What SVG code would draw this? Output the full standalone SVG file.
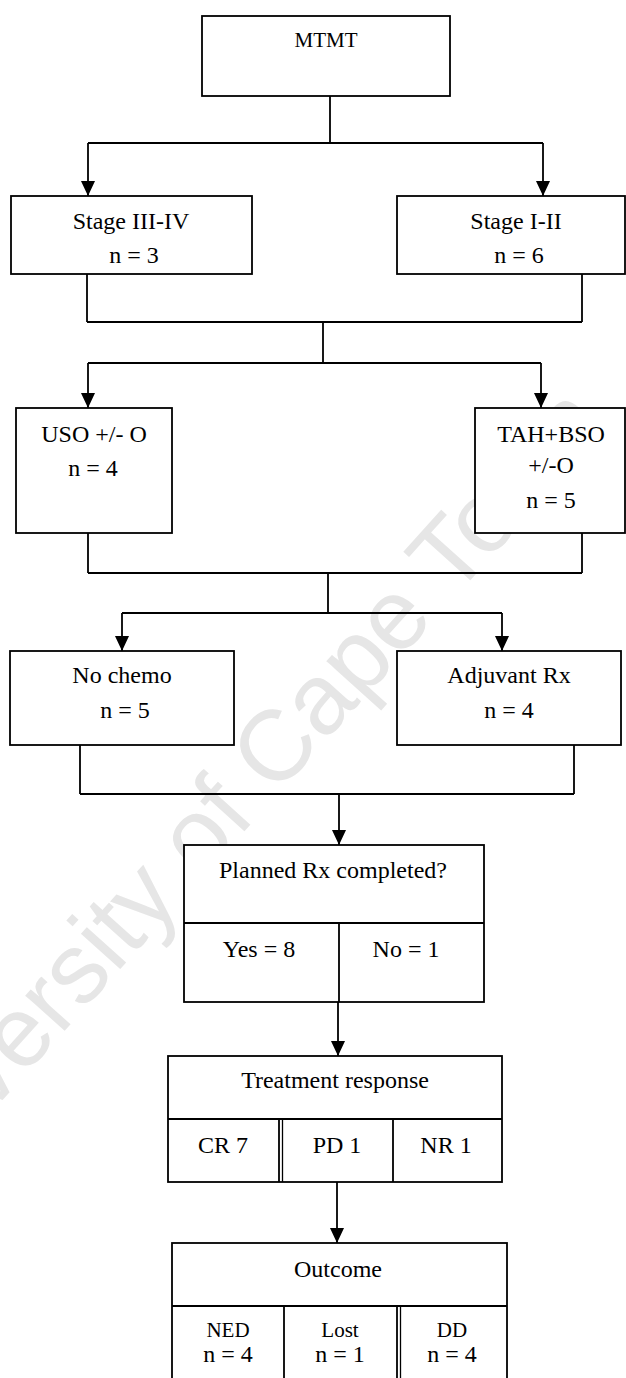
<svg xmlns="http://www.w3.org/2000/svg" width="626" height="1378" viewBox="0 0 626 1378">
<style>
.box{fill:#fff;stroke:#000;stroke-width:1.8}
.ln{fill:none;stroke:#000;stroke-width:1.8}
.t{font-family:"Liberation Serif","Times New Roman",serif;font-size:24px;text-anchor:middle;fill:#000}
.s{font-size:21px}
.wm{font-family:"Liberation Sans",Arial,sans-serif;font-size:100px;fill:#e6e6e6}
</style>
<defs>
<marker id="ah" viewBox="0 0 15 14" markerWidth="15" markerHeight="14" refX="15" refY="7" orient="auto" markerUnits="userSpaceOnUse">
<path d="M0,0 L15,7 L0,14 z" fill="#000"/>
</marker>
</defs>
<rect width="626" height="1378" fill="#fff"/>
<text class="wm" x="-111" y="1226" transform="rotate(-48 -111 1226)">University of Cape Town</text>

<g id="connectors">
<path class="ln" d="M330,96 V143 M88,143 H543 M87,274 V322 M582,274 V322 M87,322 H582 M323,322 V363 M88,363 H541 M88,533 V573 M582,533 V573 M88,573 H582 M328,573 V613 M122,613 H502 M80,745 V794 M574,745 V794 M80,794 H574"/>
<path class="ln" marker-end="url(#ah)" d="M88,143 V196"/>
<path class="ln" marker-end="url(#ah)" d="M543,143 V196"/>
<path class="ln" marker-end="url(#ah)" d="M88,363 V408"/>
<path class="ln" marker-end="url(#ah)" d="M541,363 V408"/>
<path class="ln" marker-end="url(#ah)" d="M122,613 V651"/>
<path class="ln" marker-end="url(#ah)" d="M502,613 V651"/>
<path class="ln" marker-end="url(#ah)" d="M339,794 V845"/>
<path class="ln" marker-end="url(#ah)" d="M338,1002 V1056"/>
<path class="ln" marker-end="url(#ah)" d="M337,1182 V1243"/>
</g>

<g id="mtmt">
<rect class="box" x="202" y="16" width="248" height="80"/>
<text class="t s" x="326" y="47">MTMT</text>
</g>
<g id="stage34">
<rect class="box" x="11" y="196" width="241" height="78"/>
<text class="t" x="131" y="229">Stage III-IV</text>
<text class="t" x="134" y="263">n = 3</text>
</g>
<g id="stage12">
<rect class="box" x="397" y="196" width="228" height="78"/>
<text class="t" x="516" y="229">Stage I-II</text>
<text class="t" x="519" y="263">n = 6</text>
</g>
<g id="uso">
<rect class="box" x="16" y="408" width="156" height="125"/>
<text class="t" x="94" y="442">USO +/- O</text>
<text class="t" x="93" y="476">n = 4</text>
</g>
<g id="tah">
<rect class="box" x="475" y="408" width="150" height="125"/>
<text class="t" x="551" y="442">TAH+BSO</text>
<text class="t" x="551" y="473">+/-O</text>
<text class="t" x="551" y="508">n = 5</text>
</g>
<g id="nochemo">
<rect class="box" x="10" y="651" width="224" height="94"/>
<text class="t" x="122" y="683">No chemo</text>
<text class="t" x="125" y="718">n = 5</text>
</g>
<g id="adjuvant">
<rect class="box" x="397" y="651" width="224" height="94"/>
<text class="t" x="509" y="683">Adjuvant Rx</text>
<text class="t" x="509" y="718">n = 4</text>
</g>
<g id="planned">
<rect class="box" x="184" y="845" width="300" height="157"/>
<path class="ln" d="M184,923 H484 M339,923 V1002"/>
<text class="t" x="333" y="878">Planned Rx completed?</text>
<text class="t" x="259" y="957">Yes = 8</text>
<text class="t" x="406" y="957">No = 1</text>
</g>
<g id="treatment">
<rect class="box" x="168" y="1056" width="334" height="126"/>
<path class="ln" d="M168,1119 H502 M279,1119 V1182 M393,1119 V1182"/>
<path fill="none" stroke="#000" stroke-width="1.3" d="M282.5,1119 V1182"/>
<text class="t" x="335" y="1088">Treatment response</text>
<text class="t" x="223" y="1153">CR 7</text>
<text class="t" x="337" y="1153">PD 1</text>
<text class="t" x="446" y="1153">NR 1</text>
</g>
<g id="outcome">
<rect class="box" x="172" y="1243" width="335" height="145"/>
<path class="ln" d="M172,1306 H507 M284,1306 V1378 M397,1306 V1378"/>
<path fill="none" stroke="#000" stroke-width="1.3" d="M400.5,1306 V1378"/>
<text class="t" x="338" y="1277">Outcome</text>
<text class="t s" x="228" y="1337">NED</text>
<text class="t s" x="340" y="1337">Lost</text>
<text class="t s" x="452" y="1337">DD</text>
<text class="t" x="228" y="1362">n = 4</text>
<text class="t" x="340" y="1362">n = 1</text>
<text class="t" x="452" y="1362">n = 4</text>
</g>
</svg>
